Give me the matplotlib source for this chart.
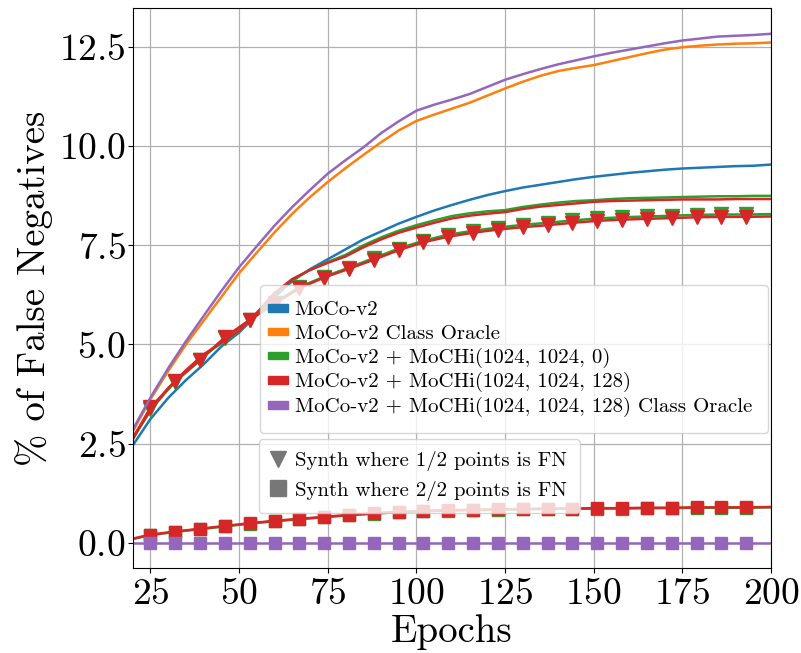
import matplotlib
matplotlib.use("Agg")
import matplotlib.pyplot as plt
from matplotlib.patches import Patch, Rectangle
from matplotlib.lines import Line2D
from matplotlib.legend_handler import HandlerPatch

plt.rcParams["font.family"] = "serif"
plt.rcParams["font.serif"] = ["cmr10"]
plt.rcParams["mathtext.fontset"] = "cm"
plt.rcParams["axes.formatter.use_mathtext"] = True

# Epoch grid for the total false-negative curves
epochs = list(range(20, 201, 5))

moco = [2.45, 3.12, 3.65, 4.10, 4.50, 4.95, 5.30, 5.75, 6.20, 6.60, 6.90, 7.15,
        7.40, 7.65, 7.85, 8.05, 8.22, 8.38, 8.52, 8.65, 8.77, 8.87, 8.96, 9.03,
        9.10, 9.17, 9.23, 9.28, 9.33, 9.37, 9.41, 9.44, 9.46, 9.48, 9.50, 9.51, 9.54]
moco_oracle = [2.80, 3.62, 4.33, 5.00, 5.60, 6.20, 6.80, 7.32, 7.83, 8.30, 8.72, 9.10,
               9.45, 9.78, 10.10, 10.40, 10.64, 10.80, 10.95, 11.10, 11.28, 11.46, 11.63,
               11.78, 11.90, 11.98, 12.05, 12.15, 12.25, 12.35, 12.44, 12.50, 12.54,
               12.57, 12.59, 12.60, 12.62]
mochi_0 = [2.62, 3.33, 3.88, 4.33, 4.73, 5.03, 5.33, 5.78, 6.28, 6.64, 6.88, 7.08,
           7.26, 7.50, 7.70, 7.87, 8.01, 8.13, 8.24, 8.31, 8.36, 8.39, 8.47, 8.53,
           8.58, 8.62, 8.64, 8.67, 8.69, 8.70, 8.71, 8.72, 8.73, 8.74, 8.74, 8.75, 8.75]
mochi_128 = [2.65, 3.35, 3.90, 4.35, 4.75, 5.05, 5.35, 5.80, 6.30, 6.65, 6.88, 7.06,
             7.22, 7.45, 7.65, 7.82, 7.95, 8.07, 8.18, 8.25, 8.30, 8.34, 8.42, 8.48,
             8.52, 8.56, 8.60, 8.62, 8.63, 8.64, 8.65, 8.66, 8.66, 8.66, 8.67, 8.67, 8.67]
mochi_128_oracle = [2.85, 3.66, 4.40, 5.08, 5.72, 6.35, 6.95, 7.48, 8.00, 8.47, 8.90,
                    9.31, 9.65, 9.97, 10.33, 10.63, 10.90, 11.05, 11.18, 11.32, 11.50,
                    11.68, 11.82, 11.95, 12.07, 12.17, 12.27, 12.36, 12.44, 12.52,
                    12.60, 12.67, 12.72, 12.77, 12.79, 12.81, 12.84]

# Epoch grid for the synthetic-negative curves (markers every 7 epochs from 25)
synth_epochs = [20, 25, 32, 39, 46, 53, 60, 67, 74, 81, 88, 95, 102, 109, 116, 123,
                130, 137, 144, 151, 158, 165, 172, 179, 186, 193, 200]

mochi_0_half = [2.60, 3.38, 4.06, 4.60, 5.17, 5.62, 6.05, 6.45, 6.71, 6.94, 7.18, 7.42,
                7.62, 7.77, 7.87, 7.95, 8.02, 8.07, 8.13, 8.18, 8.21, 8.23, 8.25, 8.27,
                8.28, 8.28, 8.29]
mochi_128_half = [2.62, 3.41, 4.08, 4.61, 5.18, 5.62, 6.03, 6.42, 6.69, 6.91, 7.14, 7.38,
                  7.58, 7.72, 7.82, 7.90, 7.96, 8.01, 8.07, 8.12, 8.15, 8.17, 8.19, 8.21,
                  8.22, 8.22, 8.23]
mochi_0_full = [0.09, 0.19, 0.27, 0.34, 0.41, 0.48, 0.54, 0.59, 0.64, 0.69, 0.73, 0.77,
                0.79, 0.81, 0.82, 0.83, 0.84, 0.85, 0.85, 0.86, 0.86, 0.87, 0.87, 0.88,
                0.88, 0.88, 0.89]
mochi_128_full = [0.10, 0.20, 0.28, 0.35, 0.42, 0.49, 0.55, 0.60, 0.65, 0.70, 0.74, 0.78,
                  0.80, 0.82, 0.83, 0.84, 0.85, 0.86, 0.86, 0.87, 0.87, 0.88, 0.88, 0.89,
                  0.89, 0.89, 0.90]
oracle_full = [0.0] * len(synth_epochs)

labels = ["MoCo-v2", "MoCo-v2 Class Oracle", "MoCo-v2 + MoCHi(1024, 1024, 0)",
          "MoCo-v2 + MoCHi(1024, 1024, 128)",
          "MoCo-v2 + MoCHi(1024, 1024, 128) Class Oracle"]
colors = ["#1f77b4", "#ff7f0e", "#2ca02c", "#d62728", "#9467bd"]
marker_labels = ["Synth where 1/2 points is FN", "Synth where 2/2 points is FN"]

fig = plt.figure(figsize=(8.01, 6.53), dpi=100)
ax = fig.add_axes([0.1657, 0.1302, 0.7968, 0.8575])

lw = 1.8
mk = list(range(1, len(synth_epochs) - 1))

ax.plot(epochs, moco, color=colors[0], lw=lw)
ax.plot(epochs, moco_oracle, color=colors[1], lw=lw)

ax.plot(epochs, mochi_0, color=colors[2], lw=lw)
ax.plot(synth_epochs, mochi_0_half, color=colors[2], lw=lw, marker="v",
        markersize=10, markevery=mk)
ax.plot(synth_epochs, mochi_0_full, color=colors[2], lw=lw, marker="s",
        markersize=8.5, markevery=mk)

ax.plot(epochs, mochi_128, color=colors[3], lw=lw)
ax.plot(synth_epochs, mochi_128_half, color=colors[3], lw=lw, marker="v",
        markersize=10, markevery=mk)
ax.plot(synth_epochs, mochi_128_full, color=colors[3], lw=lw, marker="s",
        markersize=8.5, markevery=mk)

ax.plot(epochs, mochi_128_oracle, color=colors[4], lw=lw)
ax.plot(synth_epochs, oracle_full, color=colors[4], lw=lw, marker="s",
        markersize=8.5, markevery=mk)

ax.set_xlim(20, 200)
ax.set_ylim(-0.64, 13.49)
ax.set_xticks([25, 50, 75, 100, 125, 150, 175, 200])
ax.set_yticks([0.0, 2.5, 5.0, 7.5, 10.0, 12.5])
ax.grid(True, color="#b0b0b0", lw=0.9)
ax.tick_params(labelsize=27)
ax.tick_params(axis="y", pad=1.5)
ax.set_xlabel("Epochs", fontsize=28, labelpad=2)
ax.set_ylabel("% of False Negatives", fontsize=28, labelpad=4)


def colour_key(legend, orig_handle, xdescent, ydescent, width, height, fontsize):
    # Flat colour bar, right-aligned in the handle slot and reaching into the pad
    bar_w, bar_h = 14.4, 5.3
    x0 = -xdescent + width - bar_w
    y0 = -ydescent + (height - bar_h) / 2
    return Rectangle((x0, y0), bar_w, bar_h)


handles1 = [Patch(color=c, label=l) for c, l in zip(colors, labels)]
leg1 = ax.legend(handles=handles1, loc="lower left", bbox_to_anchor=(0.199, 0.241),
                 borderaxespad=0, fontsize=15, handlelength=0.6,
                 handletextpad=0.33, labelspacing=0.23, borderpad=0.75,
                 handler_map={Patch: HandlerPatch(patch_func=colour_key)})
ax.add_artist(leg1)

# Marker legend for the synthetic-negative curves
handles2 = [Line2D([], [], color="#777777", marker="v", linestyle="none",
                   markersize=12, label=marker_labels[0]),
            Line2D([], [], color="#777777", marker="s", linestyle="none",
                   markersize=11.5, label=marker_labels[1])]
ax.legend(handles=handles2, loc="lower left", bbox_to_anchor=(0.198, 0.098),
          borderaxespad=0, fontsize=15, handlelength=0.58, handletextpad=0.55,
          labelspacing=0.44, borderpad=0.6)

fig.savefig("out.png", dpi=100)
